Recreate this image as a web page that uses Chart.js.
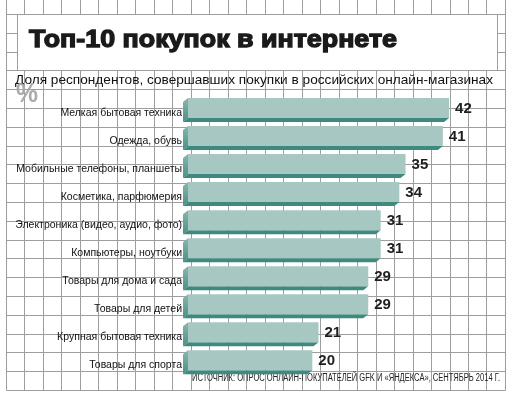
<!DOCTYPE html>
<html>
<head>
<meta charset="utf-8">
<script src="https://cdn.jsdelivr.net/npm/chart.js@4"></script>
<style>
    html, body { margin: 0; padding: 0; background: #fff; }
</style>
</head>
<body>
<canvas id="chart" width="511" height="396"></canvas>
<script>
// chart data
const categories = [
    "Мелкая бытовая техника",
    "Одежда, обувь",
    "Мобильные телефоны, планшеты",
    "Косметика, парфюмерия",
    "Электроника (видео, аудио, фото)",
    "Компьютеры, ноутбуки",
    "Товары для дома и сада",
    "Товары для детей",
    "Крупная бытовая техника",
    "Товары для спорта"
];
const shares = [42, 41, 35, 34, 31, 31, 29, 29, 21, 20];
const axisMax = 51;

const titleText = "Топ-10 покупок в интернете";
const subtitleText = "Доля респондентов, совершавших покупки в российских онлайн-магазинах";
const unitText = "%";
const sourceText = "ИСТОЧНИК: ОПРОС ОНЛАЙН-ПОКУПАТЕЛЕЙ GFK И «ЯНДЕКСА», СЕНТЯБРЬ 2014 Г.";

const faceColor = "#a7c7c3";
const shadeColor = "#3f8a80";
const gridColor = "#9e9e9e";

// draw text squeezed/stretched to a given width
function fitText(ctx, text, x, y, width) {
    const w = ctx.measureText(text).width;
    ctx.save();
    ctx.translate(x, y);
    ctx.scale(width / w, 1);
    ctx.fillText(text, 0, 0);
    ctx.restore();
}

const paper = {
    id: "paper",
    beforeDraw(chart) {
        const ctx = chart.ctx;
        ctx.save();
        ctx.fillStyle = "#fff";
        ctx.fillRect(0, 0, chart.width, chart.height);

        // graph paper
        ctx.strokeStyle = gridColor;
        ctx.lineWidth = 1;
        ctx.beginPath();
        for (let k = 0; k <= 27; k++) {
            const x = Math.round(6 + k * 18.48) + 0.5;
            ctx.moveTo(x, 0);
            ctx.lineTo(x, 390.5);
        }
        for (let k = 0; k <= 20; k++) {
            const y = Math.round(14 + k * 18.8) + 0.5;
            ctx.moveTo(6.5, y);
            ctx.lineTo(505.5, y);
        }
        ctx.stroke();

        // title box
        ctx.fillStyle = "#fff";
        ctx.fillRect(17, 14, 481, 56);
        ctx.strokeRect(17.5, 14.5, 480, 56);

        ctx.textBaseline = "alphabetic";
        ctx.textAlign = "left";

        ctx.fillStyle = "#1a1a1a";
        ctx.strokeStyle = "#1a1a1a";
        ctx.lineWidth = 1.3;
        ctx.font = "bold 24px 'Liberation Sans', Arial, sans-serif";
        const tw = ctx.measureText(titleText).width;
        ctx.save();
        ctx.translate(29, 46.5);
        ctx.scale(368 / tw, 1);
        ctx.strokeText(titleText, 0, 0);
        ctx.fillText(titleText, 0, 0);
        ctx.restore();

        ctx.fillStyle = "#111";
        ctx.font = "13px 'Liberation Sans', Arial, sans-serif";
        fitText(ctx, subtitleText, 15, 83.5, 478);

        ctx.fillStyle = "#aaaaaa";
        ctx.font = "bold 28px 'Liberation Sans', Arial, sans-serif";
        fitText(ctx, unitText, 16, 102, 22);

        ctx.fillStyle = "#222";
        ctx.font = "10px 'Liberation Sans', Arial, sans-serif";
        fitText(ctx, sourceText, 192, 380.5, 308);
        ctx.restore();
    },
    beforeDatasetsDraw(chart) {
        // 3d bevel on the left and bottom of each bar
        const ctx = chart.ctx;
        const meta = chart.getDatasetMeta(0);
        const dx = 5, dy = 4;
        ctx.save();
        meta.data.forEach((bar) => {
            const { x, y, base, height } = bar.getProps(["x", "y", "base", "height"], true);
            const top = y - height / 2;
            const bottom = y + height / 2;
            const grad = ctx.createLinearGradient(0, top, 0, bottom + dy);
            grad.addColorStop(0, "#86b8b0");
            grad.addColorStop(1, "#4a9087");
            ctx.fillStyle = grad;
            ctx.beginPath();
            ctx.moveTo(base, top);
            ctx.lineTo(base, bottom);
            ctx.lineTo(base - dx, bottom + dy);
            ctx.lineTo(base - dx, top + dy);
            ctx.closePath();
            ctx.fill();

            ctx.fillStyle = shadeColor;
            ctx.beginPath();
            ctx.moveTo(base, bottom);
            ctx.lineTo(x, bottom);
            ctx.lineTo(x - dx, bottom + dy);
            ctx.lineTo(base - dx, bottom + dy);
            ctx.closePath();
            ctx.fill();
        });
        ctx.restore();
    },
    afterDatasetsDraw(chart) {
        const ctx = chart.ctx;
        const meta = chart.getDatasetMeta(0);
        ctx.save();
        ctx.fillStyle = "#1e1e1e";
        ctx.font = "bold 15px 'Liberation Sans', Arial, sans-serif";
        ctx.textBaseline = "middle";
        ctx.textAlign = "left";
        meta.data.forEach((bar, i) => {
            ctx.fillText(String(shares[i]), bar.x + 6, bar.y + 0.5);
        });
        ctx.restore();
    }
};

new Chart(document.getElementById("chart"), {
    type: "bar",
    data: {
        labels: categories,
        datasets: [{
            data: shares,
            backgroundColor: faceColor,
            borderWidth: 0,
            barPercentage: 0.7135,
            categoryPercentage: 1
        }]
    },
    options: {
        indexAxis: "y",
        responsive: false,
        animation: false,
        layout: { padding: { left: 0, right: 6, top: 94, bottom: 21.7 } },
        plugins: {
            legend: { display: false },
            tooltip: { enabled: false }
        },
        scales: {
            x: { display: false, min: 0, max: axisMax },
            y: {
                grid: { display: false, drawTicks: false },
                border: { display: false },
                afterFit(scale) { scale.width = 188; },
                ticks: {
                    padding: 6,
                    labelOffset: 5,
                    color: "#111",
                    font: { family: "'Liberation Sans', Arial, sans-serif", size: 10.5 }
                }
            }
        }
    },
    plugins: [paper]
});
</script>
</body>
</html>
